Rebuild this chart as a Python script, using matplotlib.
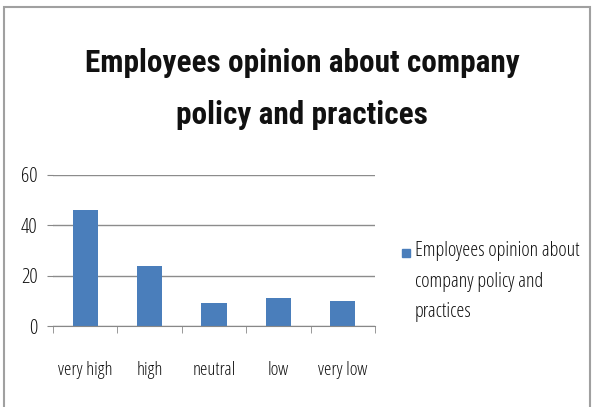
import matplotlib.pyplot as plt
from matplotlib.patches import Rectangle

categories = ['very high', 'high', 'neutral', 'low', 'very low']
values = [46, 24, 9, 11, 10]
series_name = 'Employees opinion about\ncompany policy and\npractices'
title = 'Employees opinion about company\npolicy and practices'

plt.rcParams['font.family'] = ['Open Sans', 'DejaVu Sans']
plt.rcParams['font.stretch'] = 'condensed'

fig = plt.figure(figsize=(5.92, 4.07), dpi=100)
fig.patch.set_facecolor('white')

# grey frame round the chart area
fig.add_artist(Rectangle((4 / 592, -0.01), 586 / 592, 1 - 7 / 407 + 0.01,
                         transform=fig.transFigure, fill=False,
                         edgecolor='#a0a0a0', linewidth=1.5))

ax = fig.add_axes([53 / 592, 81 / 407, 322 / 592, 151 / 407])
x = range(len(categories))
bars = ax.bar(x, values, width=0.39, color='#4a7ebb')

ax.set_xlim(-0.5, len(categories) - 0.5)
ax.set_ylim(0, 60)
ax.set_yticks([0, 20, 40, 60])
ax.set_xticks(x)
ax.set_xticklabels(categories)
ax.set_xticks([i - 0.5 for i in range(len(categories) + 1)], minor=True)
ax.tick_params(axis='x', which='major', length=0, pad=25, labelsize=13.5, colors='#111111')
ax.tick_params(axis='x', which='minor', length=5, color='#888888', direction='out')
ax.tick_params(axis='y', length=4, color='#888888', labelsize=15, colors='#111111', pad=7)

ax.grid(axis='y', color='#8c8c8c', linewidth=1)
ax.set_axisbelow(True)
for side in ['top', 'right', 'left']:
    ax.spines[side].set_visible(False)
ax.spines['bottom'].set_color('#888888')

fig.text(302 / 592, 1 - 89 / 407, title, ha='center', va='center',
         family=['Roboto Condensed', 'DejaVu Sans'], fontstretch='normal',
         fontsize=22.5, fontweight='bold', linespacing=1.95, color='#111111')

# legend: swatch beside the first line of the series name
fig.add_artist(Rectangle((402 / 592, 1 - 257 / 407), 8 / 592, 8 / 407,
                         transform=fig.transFigure, color=bars[0].get_facecolor()))
fig.text(415 / 592, 1 - 241 / 407, series_name, ha='left', va='top',
         fontsize=14.5, linespacing=1.7, color='#111111')

fig.savefig('out.png', dpi=100)
